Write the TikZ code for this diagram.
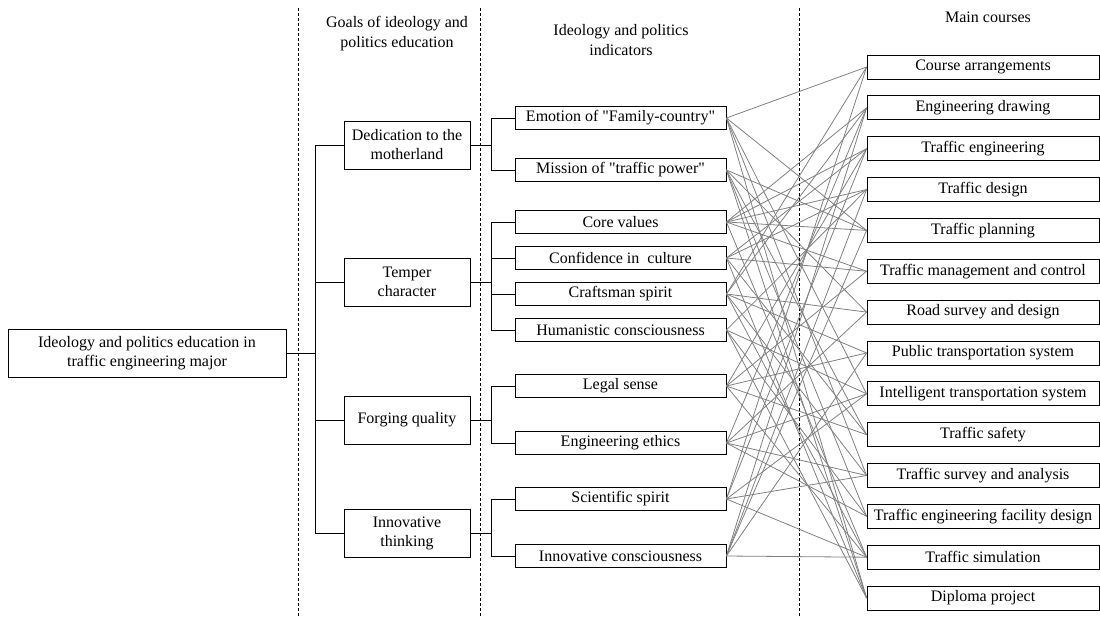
\documentclass[tikz,border=0pt]{standalone}
\usepackage{fontspec}
\setmainfont{Liberation Serif}[Ligatures=TeXOff]
\begin{document}
\begin{tikzpicture}[x=1pt,y=-1pt,
    box/.style={draw, line width=0.8pt, inner sep=0pt, align=center, font=\fontsize{16}{19}\selectfont},
    goalbox/.style={box, minimum width=126pt, minimum height=48pt},
    indbox/.style={box, minimum width=211pt, minimum height=23pt},
    coursebox/.style={box, minimum width=232pt, minimum height=24pt},
    head/.style={align=center, font=\fontsize{16}{20}\selectfont},
    link/.style={draw=gray, line width=0.8pt},
    sep/.style={densely dashed, line width=0.7pt}]
        \useasboundingbox (0,0) rectangle (1100,616);

        \draw[sep] (298,8) -- (298,616);
        \draw[sep] (480,8) -- (480,616);
        \draw[sep] (799,8) -- (799,616);

        \node[head] (hgoal) at (397,34) {Goals of ideology and\\politics education};
        \node[head] (hind) at (621,40) {Ideology and politics\\indicators};
        \node[head] (hcourse) at (988,17) {Main courses};

        \node[box, minimum width=278pt, minimum height=48pt] (main) at (147,353) {Ideology and politics education in\\traffic engineering major};

        \node[goalbox] (ded) at (407,145) {Dedication to the\\motherland};
        \node[goalbox] (tem) at (407,282) {Temper\\character};
        \node[goalbox] (forg) at (407,420) {Forging quality};
        \node[goalbox] (inn) at (407,533) {Innovative\\thinking};

        \node[indbox] (emo) at (620.5,118) {Emotion of "Family-country"};
        \node[indbox] (mis) at (620.5,170) {Mission of "traffic power"};
        \node[indbox] (core) at (620.5,222) {Core values};
        \node[indbox] (conf) at (620.5,258) {Confidence in~ culture};
        \node[indbox] (craft) at (620.5,294) {Craftsman spirit};
        \node[indbox] (hum) at (620.5,330) {Humanistic consciousness};
        \node[indbox] (legal) at (620.5,386) {Legal sense};
        \node[indbox] (eth) at (620.5,443) {Engineering ethics};
        \node[indbox] (sci) at (620.5,499) {Scientific spirit};
        \node[indbox] (innov) at (620.5,556) {Innovative consciousness};

        \foreach \name [count=\i] in {Course arrangements, Engineering drawing, Traffic engineering, Traffic design, Traffic planning, Traffic management and control, Road survey and design, Public transportation system, Intelligent transportation system, Traffic safety, Traffic survey and analysis, Traffic engineering facility design, Traffic simulation, Diploma project}
            \node[coursebox] (c\i) at (983,{67+40.85*(\i-1)}) {\name};

        \draw[line width=0.8pt] (ded.west) -- ++(-28,0) coordinate (trunk) |- (inn.west);
        \draw[line width=0.8pt] (tem.west) -- (tem.west -| trunk);
        \draw[line width=0.8pt] (forg.west) -- (forg.west -| trunk);
        \draw[line width=0.8pt] (main.east) -- (main.east -| trunk);

        \draw[line width=0.8pt] (ded.east) -- ++(22,0);
        \draw[line width=0.8pt] (emo.west) -- ++(-23,0) |- (mis.west);
        \draw[line width=0.8pt] (tem.east) -- ++(22,0);
        \draw[line width=0.8pt] (core.west) -- ++(-23,0) |- (hum.west);
        \draw[line width=0.8pt] (conf.west) -- ++(-23,0);
        \draw[line width=0.8pt] (craft.west) -- ++(-23,0);
        \draw[line width=0.8pt] (forg.east) -- ++(22,0);
        \draw[line width=0.8pt] (legal.west) -- ++(-23,0) |- (eth.west);
        \draw[line width=0.8pt] (inn.east) -- ++(22,0);
        \draw[line width=0.8pt] (sci.west) -- ++(-23,0) |- (innov.west);

        \foreach \src/\dst in {emo/1, emo/5, emo/9, emo/11, emo/14,
                mis/5, mis/7, mis/10, mis/12, mis/14,
                core/2, core/3, core/4, core/5, core/6, core/13,
                conf/3, conf/4, conf/6, conf/10, conf/14,
                craft/1, craft/2, craft/7, craft/8, craft/11, craft/13,
                hum/4, hum/9, hum/12, hum/14,
                legal/3, legal/6, legal/8, legal/10, legal/13,
                eth/2, eth/7, eth/9, eth/11, eth/12,
                sci/1, sci/3, sci/9, sci/11, sci/13,
                innov/2, innov/4, innov/5, innov/8, innov/13}
            \draw[link] (\src.east) -- (c\dst.west);
    \end{tikzpicture}
\end{document}
